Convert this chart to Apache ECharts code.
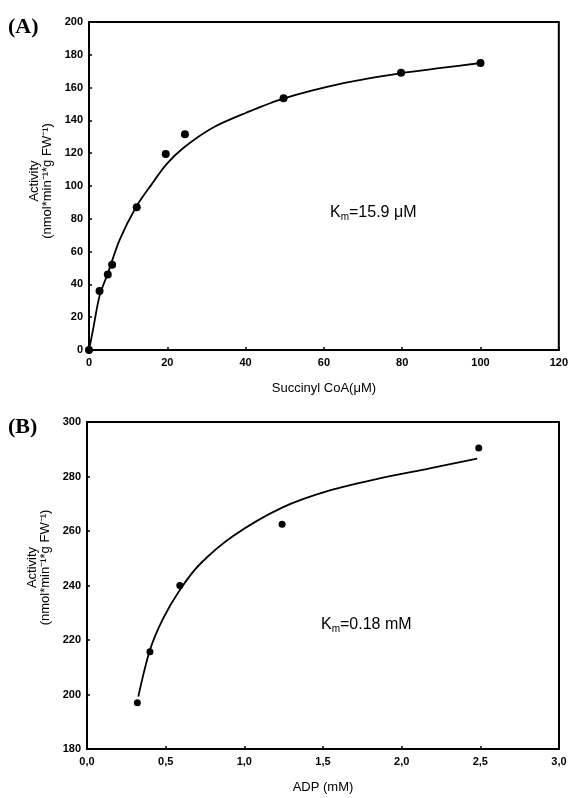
<!DOCTYPE html>
<html>
<head>
<meta charset="utf-8">
<script src="https://cdn.jsdelivr.net/npm/echarts@6/dist/echarts.min.js"></script>
<style>
html,body{margin:0;padding:0;background:#fff;}
#c{width:571px;height:798px;}
</style>
</head>
<body>
<div id="c"></div>
<script>
// Panel A: Succinyl CoA
const aSubstrate = [0, 2.7, 4.8, 5.9, 12.2, 19.6, 24.5, 49.7, 79.7, 100];
const aActivity  = [0, 36, 46, 52, 87, 119.5, 131.5, 153.5, 169, 175];
const aFitX = [0, 1, 2.7, 4.85, 7.8, 12.1, 16, 19.7, 24, 31.6, 40, 49.6, 65.6, 79.7, 90, 100];
const aFitY = [0, 12, 33, 47, 67, 87.5, 101, 113, 123, 135.5, 144.5, 153.3, 163, 168.8, 172, 175];
const aXTicks = [0, 20, 40, 60, 80, 100, 120];
const aYTicks = [0, 20, 40, 60, 80, 100, 120, 140, 160, 180, 200];

// Panel B: ADP
const bADP = [0.32, 0.40, 0.59, 1.24, 2.49];
const bActivity = [197, 215.7, 240, 262.5, 290.5];
const bFitX = [0.326, 0.4, 0.485, 0.589, 0.717, 0.929, 1.24, 1.543, 1.86, 2.178, 2.48];
const bFitY = [199.2, 216.3, 228, 238.3, 247.8, 258.2, 268.6, 274.9, 279.3, 283, 286.6];
const bXTicks = [0, 0.5, 1.0, 1.5, 2.0, 2.5, 3.0];
const bYTicks = [180, 200, 220, 240, 260, 280, 300];

const pairs = (xs, ys) => xs.map((x, i) => [x, ys[i]]);

const chart = echarts.init(document.getElementById('c'), null, {renderer: 'canvas'});

const tickFont = {color: '#000', fontSize: 11, fontWeight: 'bold', fontFamily: 'Liberation Sans, Arial, sans-serif'};
const nameFont = {color: '#000', fontSize: 13, fontFamily: 'Liberation Sans, Arial, sans-serif'};

function xAx(gi, ticks, name, fmt) {
  return {
    gridIndex: gi, type: 'value',
    min: ticks[0], max: ticks[ticks.length - 1], interval: ticks[1] - ticks[0],
    name: name, nameLocation: 'middle', nameGap: 32, nameTextStyle: nameFont,
    axisLine: {show: true, lineStyle: {color: '#000', width: 2}},
    axisTick: {show: true, inside: true, length: 3, lineStyle: {color: '#000', width: 1.5}},
    axisLabel: Object.assign({margin: 7, formatter: fmt}, tickFont),
    splitLine: {show: false}
  };
}
function yAx(gi, ticks, gap, pad) {
  return {
    gridIndex: gi, type: 'value',
    min: ticks[0], max: ticks[ticks.length - 1], interval: ticks[1] - ticks[0],
    name: 'Activity\n(nmol*min\u207B\u00B9*g FW\u207B\u00B9)', nameLocation: 'middle', nameRotate: 90, nameGap: gap,
    nameTextStyle: {color: '#000', fontSize: 13, lineHeight: 13, padding: pad, fontFamily: 'Liberation Sans, Arial, sans-serif'},
    axisLine: {show: true, lineStyle: {color: '#000', width: 2}},
    axisTick: {show: true, inside: true, length: 3, lineStyle: {color: '#000', width: 1.5}},
    axisLabel: Object.assign({margin: 6}, tickFont),
    splitLine: {show: false}
  };
}

const option = {
  animation: false,
  backgroundColor: '#fff',
  grid: [
    {left: 89, top: 22, width: 471, height: 328, show: true, borderColor: '#000', borderWidth: 2, backgroundColor: 'transparent'},
    {left: 87, top: 422, width: 472, height: 327, show: true, borderColor: '#000', borderWidth: 2, backgroundColor: 'transparent'}
  ],
  xAxis: [
    xAx(0, aXTicks, 'Succinyl CoA(\u03BCM)', v => String(v)),
    xAx(1, bXTicks, 'ADP (mM)', v => v.toFixed(1).replace('.', ','))
  ],
  yAxis: [
    yAx(0, aYTicks, 30, [0, 0, 0, 10]),
    yAx(1, bYTicks, 30, [0, 0, 0, 36])
  ],
  series: [
    {type: 'line', xAxisIndex: 0, yAxisIndex: 0, data: pairs(aFitX, aFitY), smooth: 0.3,
     showSymbol: false, lineStyle: {color: '#000', width: 1.8}, z: 2},
    {type: 'scatter', xAxisIndex: 0, yAxisIndex: 0, data: pairs(aSubstrate, aActivity), symbol: 'circle', symbolSize: 8,
     itemStyle: {color: '#000', opacity: 1}, z: 3},
    {type: 'line', xAxisIndex: 1, yAxisIndex: 1, data: pairs(bFitX, bFitY), smooth: 0.3,
     showSymbol: false, lineStyle: {color: '#000', width: 1.8}, z: 2},
    {type: 'scatter', xAxisIndex: 1, yAxisIndex: 1, data: pairs(bADP, bActivity), symbol: 'circle', symbolSize: 7,
     itemStyle: {color: '#000', opacity: 1}, z: 3}
  ],
  graphic: [
    {type: 'text', left: 8, top: 16, style: {text: '(A)', font: 'bold 22px "Liberation Serif", "Times New Roman", serif', fill: '#000'}},
    {type: 'text', left: 8, top: 416, style: {text: '(B)', font: 'bold 22px "Liberation Serif", "Times New Roman", serif', fill: '#000'}},
    {type: 'text', left: 330, top: 204, style: {
      text: '{a|K}{s|m}{a|=15.9 \u03BCM}',
      rich: {a: {fontSize: 16, fontFamily: 'Liberation Sans, Arial, sans-serif', fill: '#000', color: '#000', lineHeight: 18},
             s: {fontSize: 10, fontFamily: 'Liberation Sans, Arial, sans-serif', fill: '#000', color: '#000', lineHeight: 18, verticalAlign: 'bottom', padding: [8, 0, 0, 0]}}}},
    {type: 'text', left: 321, top: 616, style: {
      text: '{a|K}{s|m}{a|=0.18 mM}',
      rich: {a: {fontSize: 16, fontFamily: 'Liberation Sans, Arial, sans-serif', fill: '#000', color: '#000', lineHeight: 18},
             s: {fontSize: 10, fontFamily: 'Liberation Sans, Arial, sans-serif', fill: '#000', color: '#000', lineHeight: 18, verticalAlign: 'bottom', padding: [8, 0, 0, 0]}}}}
  ]
};
chart.setOption(option);
</script>
</body>
</html>
